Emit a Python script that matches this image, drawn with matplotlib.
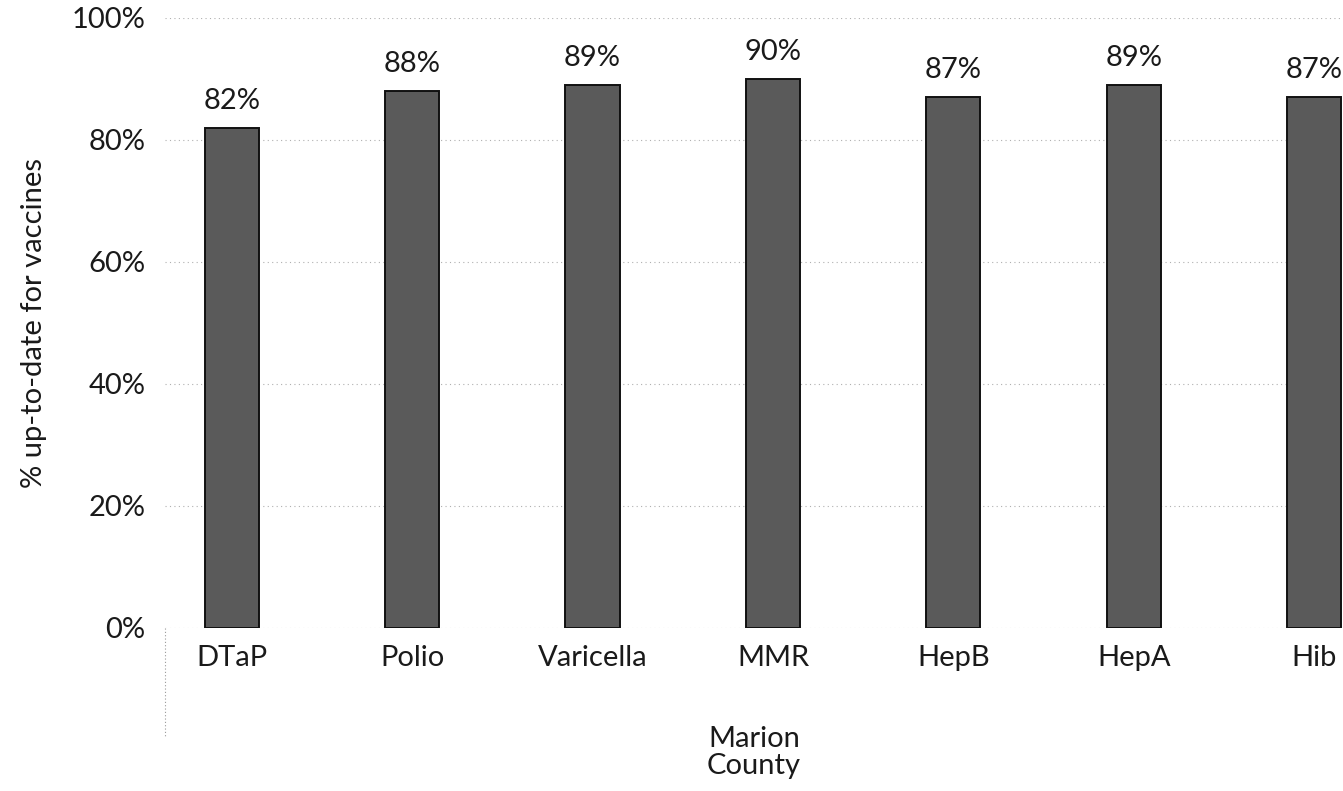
import numpy as np
import matplotlib
matplotlib.use("Agg")
import matplotlib.pyplot as plt

plt.rcParams['font.family'] = ['Lato', 'DejaVu Sans']

# data
vaccines = ['DTaP', 'Polio', 'Varicella', 'MMR', 'HepB', 'HepA', 'Hib']
uptodate = [82, 88, 89, 90, 87, 89, 87]
y_ticks = [0, 20, 40, 60, 80, 100]

fig = plt.figure(figsize=(13.43, 7.91), dpi=100)
ax = fig.add_axes([165 / 1343, 163 / 791, (1343 - 165) / 1343, 610 / 791])

x = np.arange(len(vaccines))
bars = ax.bar(x, uptodate, width=0.3, color='#5a5a5a', edgecolor='#111111',
              linewidth=1.4, zorder=3)

# value labels above bars
for b, v in zip(bars, uptodate):
    ax.text(b.get_x() + b.get_width() / 2, v + 2.3, f'{v}%', ha='center',
            va='bottom', fontsize=21, color='#1a1a1a')

ax.set_ylim(0, 100)
ax.set_xlim(-0.37, 6.16)
ax.set_yticks(y_ticks)
ax.set_yticklabels([f'{t}%' for t in y_ticks])
ax.set_xticks(x)
ax.set_xticklabels(vaccines)
ax.tick_params(axis='both', length=0, labelsize=21, colors='#1a1a1a')
ax.tick_params(axis='y', pad=14)
ax.tick_params(axis='x', pad=12)

# faint dotted gridlines as in the scan
ax.yaxis.grid(True, linestyle=(0, (1, 3)), color='#b0b0b0', linewidth=0.8, zorder=0)
for s in ax.spines.values():
    s.set_visible(False)

# category-group divider below the axis
ax.plot([0, 0], [0, -0.18], transform=ax.transAxes, clip_on=False,
        linestyle=(0, (1, 2)), color='#999999', linewidth=0.8)

ax.set_ylabel('% up-to-date for vaccines', fontsize=21, color='#1a1a1a', labelpad=18)
ax.set_xlabel('Marion\nCounty', fontsize=21, color='#1a1a1a', labelpad=40,
              linespacing=1.05)

fig.savefig('out.png', dpi=100)
